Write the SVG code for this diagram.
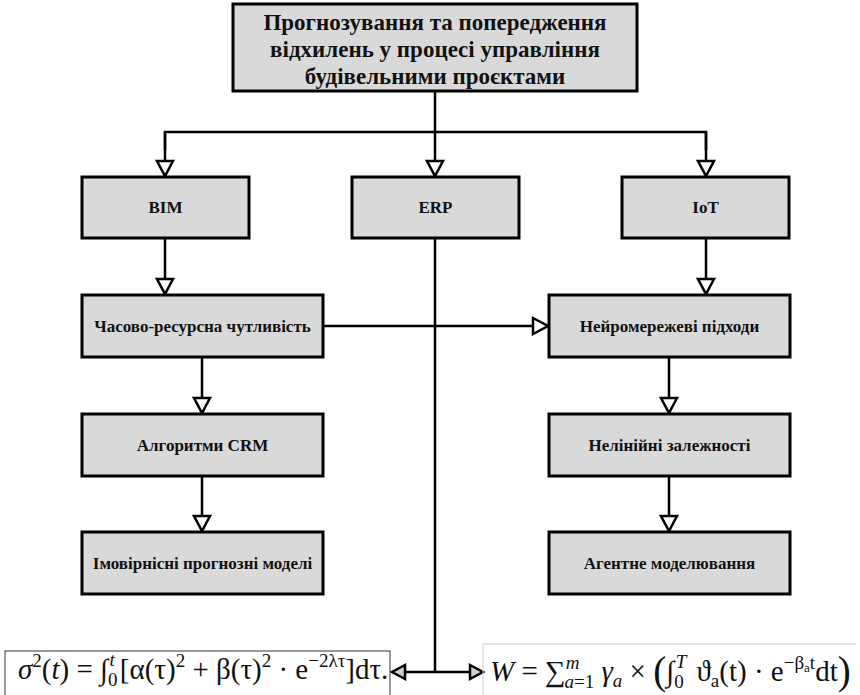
<svg xmlns="http://www.w3.org/2000/svg" width="860" height="695" viewBox="0 0 860 695">
<style>
.box{fill:#d9d9d9;stroke:#000;stroke-width:3}
.lbl{font-family:'Liberation Serif','DejaVu Serif','Times New Roman',serif;font-weight:700;font-size:17px;text-anchor:middle;fill:#111}
.ttl{font-family:'Liberation Serif','DejaVu Serif','Times New Roman',serif;font-weight:700;font-size:23px;text-anchor:middle;fill:#111}
.ln{fill:none;stroke:#000;stroke-width:2.5}
.fm{font-family:'Liberation Serif','DejaVu Serif',serif;font-size:29px;fill:#111}
.it{font-style:italic}
.sm{font-size:19px}
</style>
<defs>
<marker id="arr" markerUnits="userSpaceOnUse" markerWidth="20" markerHeight="20" refX="15" refY="8" orient="auto" viewBox="-2 -2 20 20">
<path d="M0,0 L15,8 L0,16 Z" fill="#fff" stroke="#000" stroke-width="2.5"/>
</marker>
<marker id="arrg" markerUnits="userSpaceOnUse" markerWidth="20" markerHeight="20" refX="13" refY="7" orient="auto" viewBox="-2 -2 20 20">
<path d="M0,0 L13,7 L0,14 Z" fill="#d0d0d0" stroke="#000" stroke-width="2.5"/>
</marker>
</defs>

<g id="connectors">
<path class="ln" d="M435,92 V132"/>
<path class="ln" d="M165,150 V132 H706 V150"/>
<path class="ln" d="M165,132 V176" marker-end="url(#arr)"/>
<path class="ln" d="M435,132 V176" marker-end="url(#arr)"/>
<path class="ln" d="M706,132 V176" marker-end="url(#arr)"/>
<path class="ln" d="M165,238 V294" marker-end="url(#arr)"/>
<path class="ln" d="M706,238 V294" marker-end="url(#arr)"/>
<path class="ln" d="M323,326 H548" marker-end="url(#arr)"/>
<path class="ln" d="M202,357 V413" marker-end="url(#arr)"/>
<path class="ln" d="M202,476 V531" marker-end="url(#arr)"/>
<path class="ln" d="M669,357 V413" marker-end="url(#arr)"/>
<path class="ln" d="M669,476 V531" marker-end="url(#arr)"/>
<path class="ln" d="M435,238 V672"/>
<path class="ln" d="M435,672 H392" marker-end="url(#arrg)"/>
<path class="ln" d="M435,672 H483" marker-end="url(#arrg)"/>
</g>

<g id="title">
<rect class="box" x="233" y="4" width="404" height="87"/>
<text class="ttl" x="435" y="30">Прогнозування та попередження</text>
<text class="ttl" x="435" y="57">відхилень у процесі управління</text>
<text class="ttl" x="435" y="84">будівельними проєктами</text>
</g>
<g id="bim">
<rect class="box" x="82" y="177" width="167" height="61"/>
<text class="lbl" x="165.5" y="213">BIM</text>
</g>
<g id="erp">
<rect class="box" x="352" y="177" width="167" height="61"/>
<text class="lbl" x="435.5" y="213">ERP</text>
</g>
<g id="iot">
<rect class="box" x="622" y="177" width="167" height="61"/>
<text class="lbl" x="705.5" y="213">IoT</text>
</g>
<g id="chasovo">
<rect class="box" x="82" y="295" width="241" height="62"/>
<text class="lbl" x="202.5" y="332">Часово-ресурсна чутливість</text>
</g>
<g id="neiro">
<rect class="box" x="549" y="295" width="241" height="62"/>
<text class="lbl" x="669.5" y="332">Нейромережеві підходи</text>
</g>
<g id="crm">
<rect class="box" x="82" y="414" width="241" height="62"/>
<text class="lbl" x="202.5" y="451">Алгоритми CRM</text>
</g>
<g id="neliniyni">
<rect class="box" x="549" y="414" width="241" height="62"/>
<text class="lbl" x="669.5" y="451">Нелінійні залежності</text>
</g>
<g id="imovirnisni">
<rect class="box" x="82" y="532" width="241" height="62"/>
<text class="lbl" x="202.5" y="569">Імовірнісні прогнозні моделі</text>
</g>
<g id="agentne">
<rect class="box" x="549" y="532" width="241" height="62"/>
<text class="lbl" x="669.5" y="569">Агентне моделювання</text>
</g>

<g id="formula-left">
<rect x="5" y="651" width="385" height="50" fill="#fff" stroke="#333" stroke-width="1"/>
<text class="fm" x="18" y="679"><tspan class="it">σ</tspan><tspan class="sm" dy="-12">2</tspan><tspan dy="12">(</tspan><tspan class="it">t</tspan><tspan>) = ∫</tspan><tspan class="sm" dy="7">0</tspan><tspan class="sm it" dx="-8" dy="-20">t</tspan><tspan dx="5" dy="13">[α(τ)</tspan><tspan class="sm" dy="-12">2</tspan><tspan dy="12"> + β(τ)</tspan><tspan class="sm" dy="-12">2</tspan><tspan dy="12"> · e</tspan><tspan class="sm" dy="-12">−2λτ</tspan><tspan dy="12">]dτ.</tspan></text>
</g>
<g id="formula-right">
<path d="M483,695 V644 H856" fill="none" stroke="#ccc" stroke-width="1"/>
<text class="fm" x="490" y="681"><tspan class="it">W</tspan><tspan> = ∑</tspan><tspan class="sm it" dy="-12">m</tspan><tspan class="sm it" dx="-15" dy="19">a</tspan><tspan class="sm">=1</tspan><tspan class="it" dy="-7"> γ</tspan><tspan class="sm it" dy="6">a</tspan><tspan dy="-6"> × </tspan><tspan font-size="39" dy="3">(</tspan><tspan dy="-3">∫</tspan><tspan class="sm" dy="7">0</tspan><tspan class="sm it" dx="-8" dy="-20">T</tspan><tspan dx="3" dy="13"> ϑ</tspan><tspan class="sm" dy="6">a</tspan><tspan dy="-6">(t) · e</tspan><tspan class="sm" dy="-12">−β</tspan><tspan font-size="13" dy="3">a</tspan><tspan class="sm" dy="-3">t</tspan><tspan dy="12">dt</tspan><tspan font-size="39" dy="3">)</tspan></text>
</g>
</svg>
